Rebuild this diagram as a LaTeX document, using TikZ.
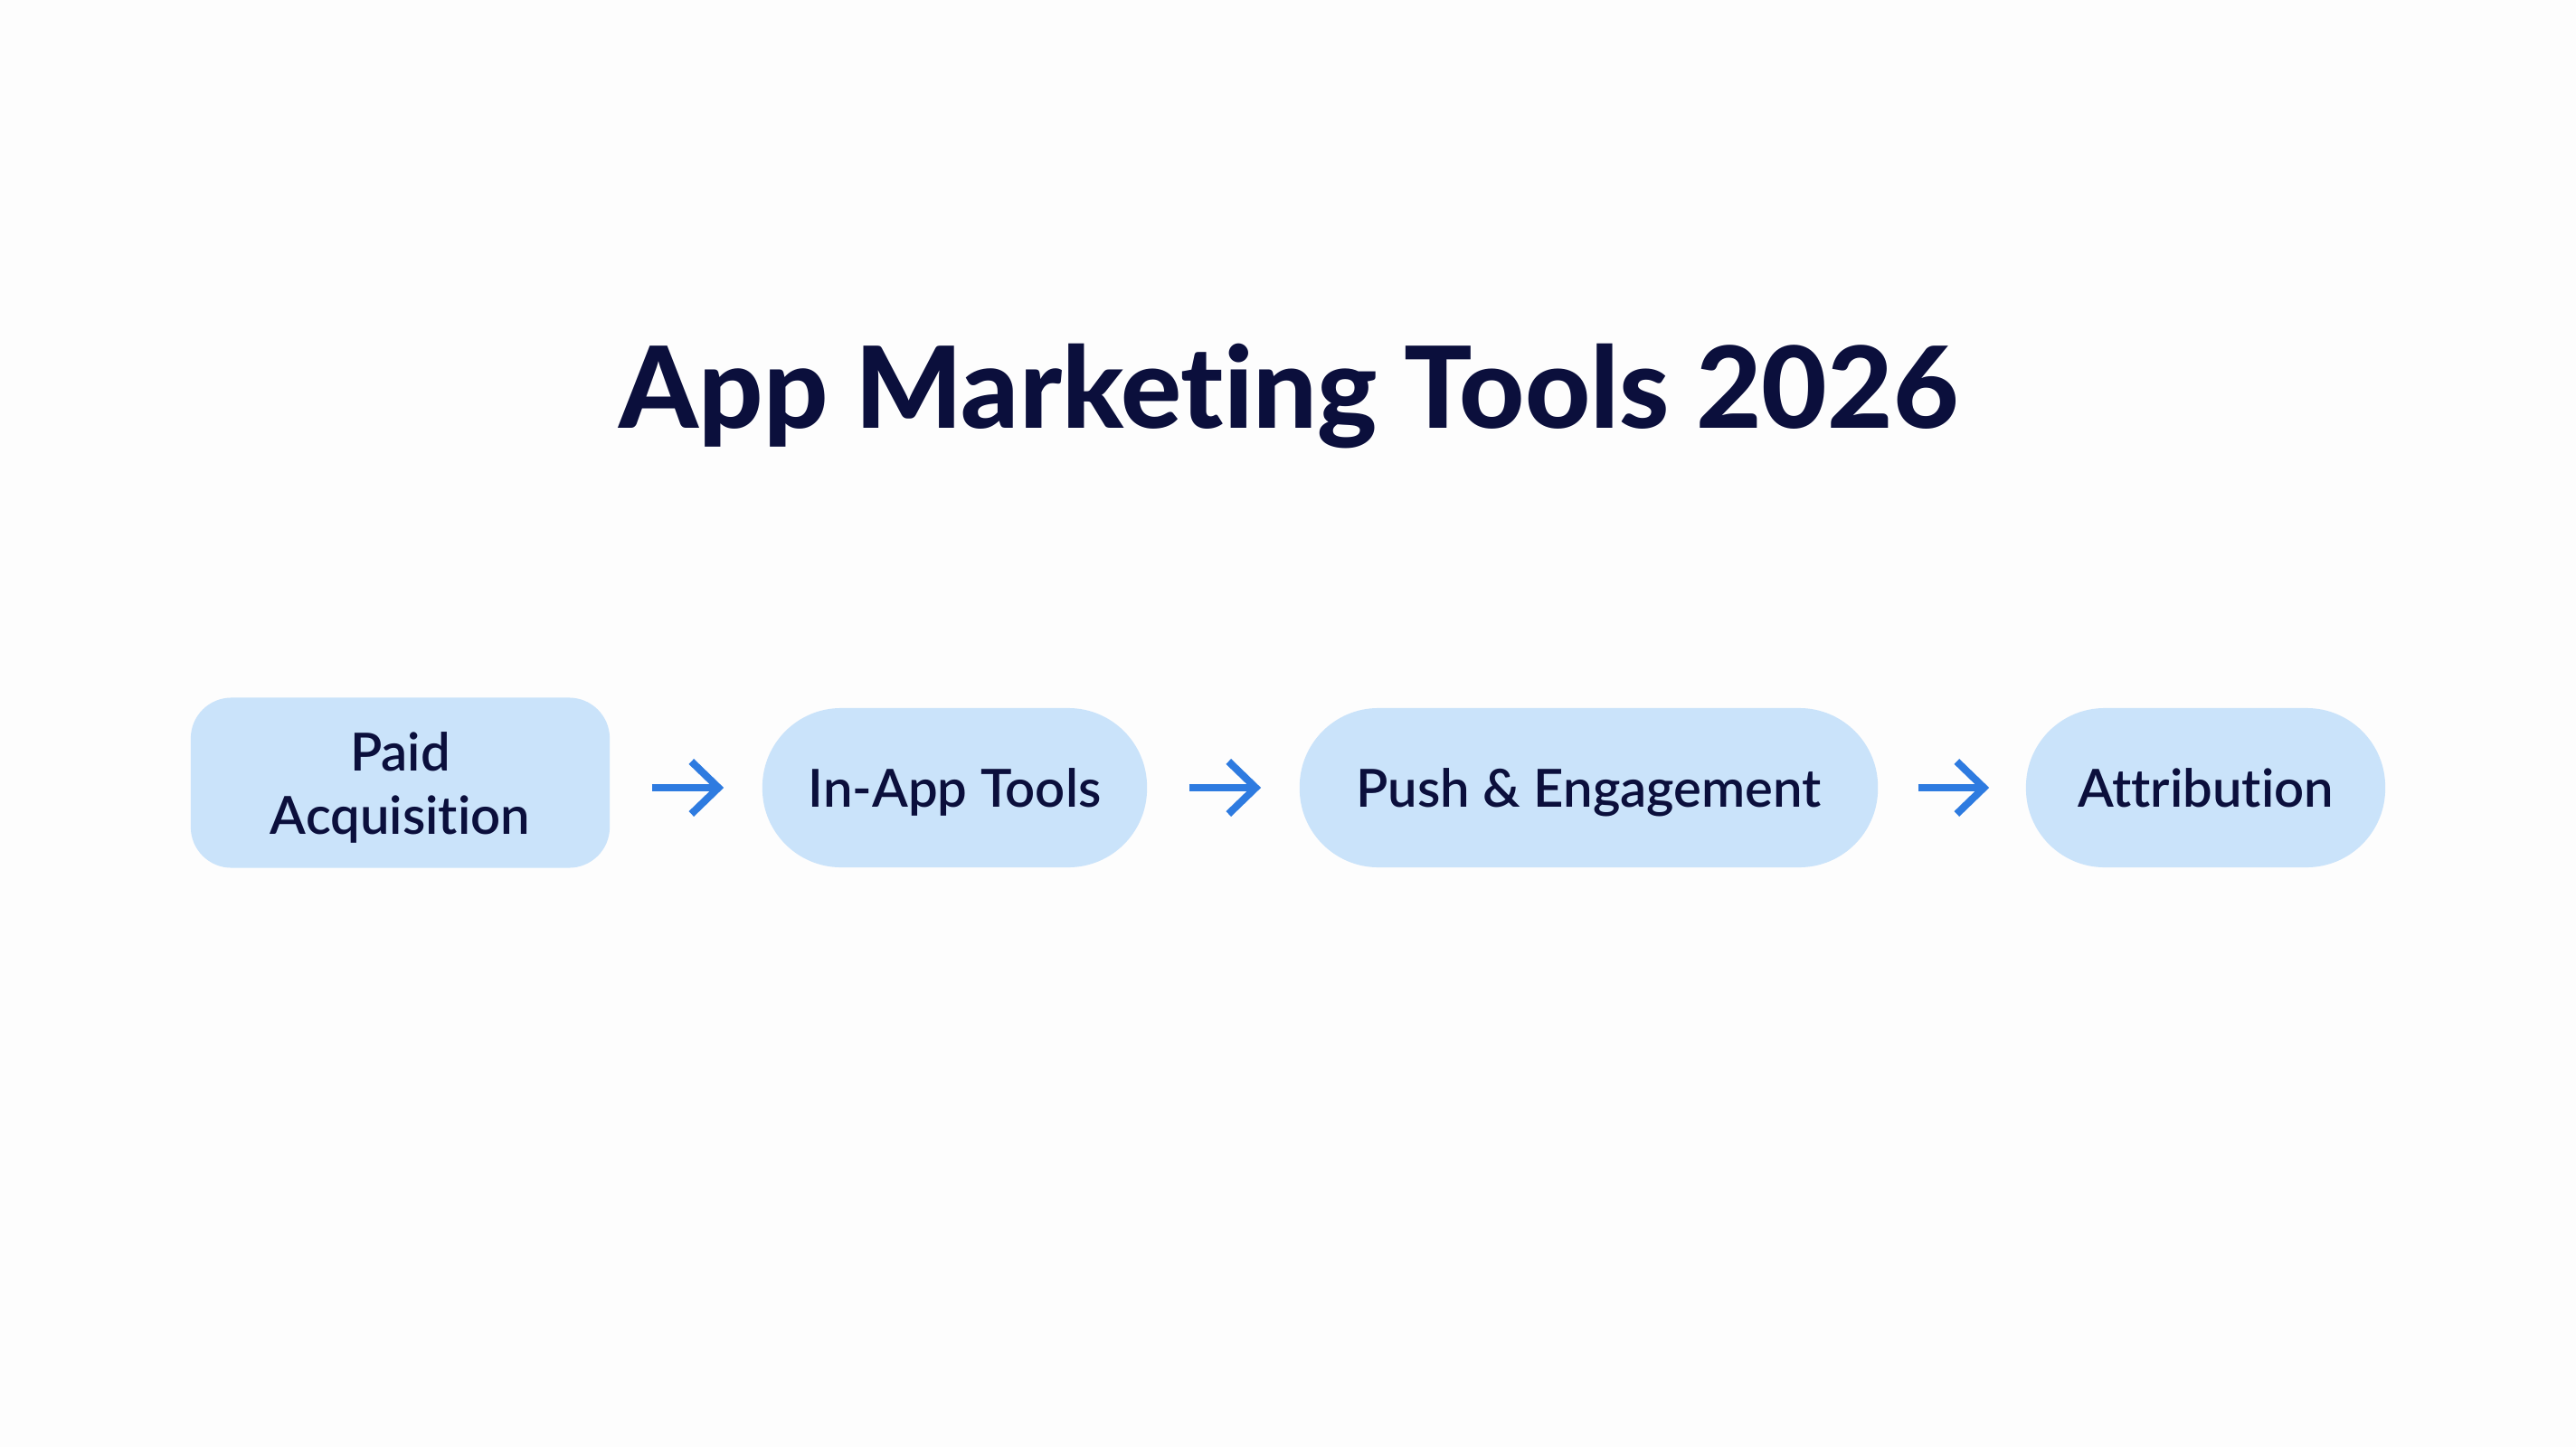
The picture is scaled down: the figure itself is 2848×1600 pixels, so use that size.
\documentclass[tikz,border=0pt]{standalone}
\usepackage{fontspec}
\setmainfont{Lato}[Ligatures=NoCommon]
\newfontfamily\labelfont{Lato Semibold}[Ligatures=NoCommon]
\newfontfamily\titlefont{Lato Heavy}[Ligatures=NoCommon]
\usetikzlibrary{arrows.meta}
\definecolor{bg}{HTML}{FDFDFD}
\definecolor{ink}{HTML}{0B0F3C}
\definecolor{boxfill}{HTML}{CAE3FA}
\definecolor{arrowc}{HTML}{2E7BE0}
\tikzset{
  stage/.style={fill=boxfill, draw=none, align=center, text=ink,
    font=\labelfont\fontsize{16.5}{20}\selectfont, minimum height=1.76cm, inner sep=0pt,
    text height=12.4pt, text depth=0pt},
  stagetext/.style={align=center, text=ink, inner sep=0pt,
    font=\labelfont\fontsize{16.5}{19.9}\selectfont},
  flowarrow/.style={draw=arrowc, line width=2.3pt,
    -{Straight Barb[length=3mm,width=5.8mm]}, shorten <=0.46cm, shorten >=0.42cm},
}
\begin{document}
\begin{tikzpicture}[x=0.01cm,y=-0.01cm]
\fill[bg] (0,0) rectangle (2848,1600);
\useasboundingbox (0,0) rectangle (2848,1600);
\node[text=ink, font=\titlefont\fontsize{35.6}{42}\selectfont, anchor=base] (title) at (1425,473) {App Marketing Tools 2026};
\node[stage, minimum width=4.63cm, minimum height=1.88cm, rounded corners=0.45cm] (b1) at (442.5,865.5) {};
\node[stagetext, anchor=base] (b1t) at (442.5,922) {Paid\\Acquisition};
\node[stage, minimum width=4.25cm, rounded corners=0.87cm] (b2) at (1055.5,871) {In-App Tools};
\node[stage, minimum width=6.39cm, rounded corners=0.87cm] (b3) at (1756.5,871) {Push \& Engagement};
\node[stage, minimum width=3.97cm, rounded corners=0.87cm] (b4) at (2438.5,871) {Attribution};
\draw[flowarrow] (b1.east |- b2) -- (b2.west);
\draw[flowarrow] (b2.east) -- (b3.west);
\draw[flowarrow, shorten <=0.44cm, shorten >=0.40cm] (b3.east) -- (b4.west);
\end{tikzpicture}
\end{document}
